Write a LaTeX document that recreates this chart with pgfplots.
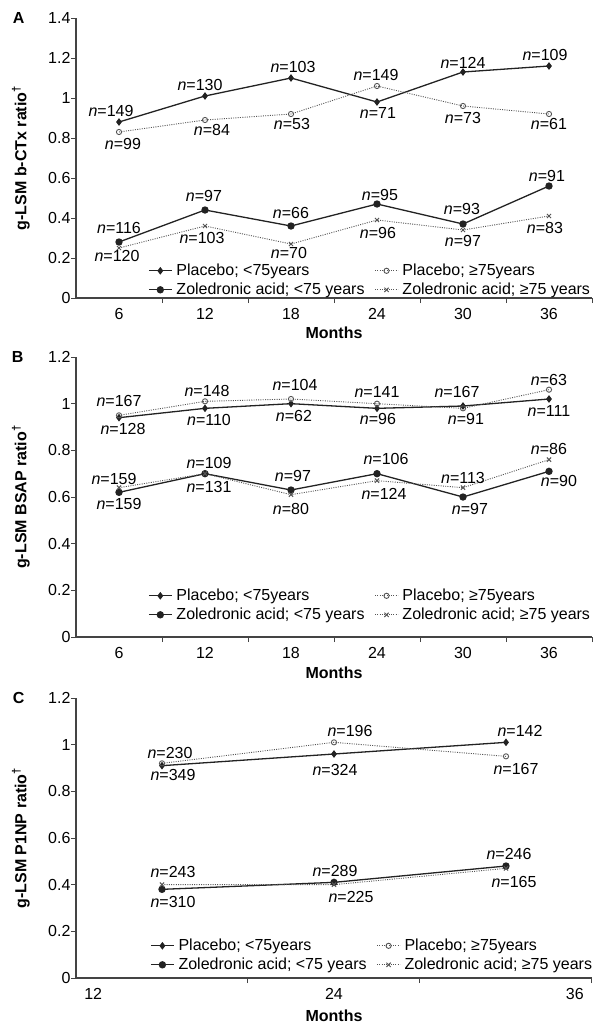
\documentclass[border=0pt]{standalone}
\usepackage{pgfplots}
\pgfplotsset{compat=1.18}
\usepackage{fontspec}
\setmainfont{Liberation Sans}
\definecolor{axisgray}{HTML}{444444}
\definecolor{linedark}{HTML}{222222}
\definecolor{dotgray}{HTML}{555555}

\pgfplotsset{
  panel/.style={
    scale only axis, width=516pt, height=280pt,
    ymin=0, clip=false,
    axis x line*=bottom, axis y line*=left,
    axis line style={line width=1.2pt, color=axisgray, -},
    tick align=outside,
    major tick length=0pt, minor tick length=5pt,
    tick style={line width=1pt, color=axisgray},
    /pgf/number format/assume math mode=true,
    yticklabel style={/pgf/number format/fixed, /pgf/number format/precision=1, text=black},
    xticklabel style={text=black, yshift=-5pt},
    every axis y label/.style={at={(axis description cs:-0.1066,0.5)}, rotate=90, anchor=center, font=\bfseries},
    every axis x label/.style={at={(axis description cs:0.5,0)}, anchor=center, yshift=-35pt, font=\bfseries},
    legend columns=2,
    legend cell align=left,
    legend style={draw=none, fill=none, inner sep=0pt, anchor=south west,
      nodes={inner sep=1pt, inner xsep=4pt},
      /tikz/row sep=3pt,
      /tikz/every even column/.append style={column sep=6pt}},
    legend image code/.code={
      \draw[#1] (0pt,0pt) -- (23pt,0pt);
      \draw[#1, only marks] plot coordinates {(11.5pt,0pt)};},
  },
  nlab/.style={
    nodes near coords={\textit{n}=\pgfplotspointmeta},
    point meta=explicit symbolic,
    visualization depends on={\thisrow{dx}\as\dx},
    visualization depends on={\thisrow{dy}\as\dy},
    every node near coord/.append style={anchor=center, xshift=\dx pt, yshift=\dy pt, inner sep=0pt, text=black},
  },
  sA/.style={nlab, line width=1.3pt, color=linedark, mark=diamond*, mark size=2.8pt, mark options={solid, fill=linedark}},
  sB/.style={nlab, line width=0.9pt, color=dotgray, dash pattern=on 1pt off 1.3pt, mark=o, mark size=2.6pt, mark options={solid, fill=white, line width=0.9pt}},
  sC/.style={nlab, line width=1.3pt, color=linedark, mark=*, mark size=3pt, mark options={solid, fill=linedark}},
  sD/.style={nlab, line width=0.9pt, color=dotgray, dash pattern=on 1pt off 1.3pt, mark=x, mark size=3pt, mark options={solid, line width=1pt}},
}

\begin{document}
\fontsize{16}{19}\selectfont
\begin{tikzpicture}
\useasboundingbox (0,0) rectangle (598pt,-1028pt);

% ---------------- Panel A ----------------
\begin{axis}[panel, at={(76pt,-298pt)}, anchor=south west,
  xmin=3, xmax=39, ymax=1.4,
  xtick={6,12,18,24,30,36}, minor xtick={9,15,21,27,33,39},
  ytick={0,0.2,0.4,0.6,0.8,1,1.2,1.4}, minor ytick={0,0.2,0.4,0.6,0.8,1,1.2,1.4},
  xlabel={Months}, ylabel={g-LSM b-CTx ratio\textsuperscript{†}},
  legend style={at={(axis description cs:0.1395,0)}, yshift=0pt},
]
\addplot[sA] table[x=x,y=y,meta=n] {
x y n dx dy
6 0.88 149 -8 11
12 1.01 130 -5 11
18 1.10 103 2 11
24 0.98 71 1 -11
30 1.13 124 0 9
36 1.16 109 -4 11
};
\addlegendentry{Placebo; <75years}
\addplot[sB] table[x=x,y=y,meta=n] {
x y n dx dy
6 0.83 99 4 -12
12 0.89 84 7 -10
18 0.92 53 1 -10
24 1.06 149 -1 11
30 0.96 73 0 -12
36 0.92 61 0 -10
};
\addlegendentry{Placebo; ≥75years}
\addplot[sC] table[x=x,y=y,meta=n] {
x y n dx dy
6 0.28 116 0 14
12 0.44 97 -1 14
18 0.36 66 0 13
24 0.47 95 3 9
30 0.37 93 -1 15
36 0.56 91 -2 10
};
\addlegendentry{Zoledronic acid; <75 years}
\addplot[sD] table[x=x,y=y,meta=n] {
x y n dx dy
6 0.25 120 -2 -8
12 0.36 103 -3 -12
18 0.27 70 -2 -9
24 0.39 96 1 -13
30 0.34 97 0 -11
36 0.41 83 -4 -12
};
\addlegendentry{Zoledronic acid; ≥75 years}
\node[font=\bfseries, anchor=center] at (axis description cs:-0.111,1) {A};
\end{axis}

% ---------------- Panel B ----------------
\begin{axis}[panel, at={(76pt,-637pt)}, anchor=south west,
  xmin=3, xmax=39, ymax=1.2,
  xtick={6,12,18,24,30,36}, minor xtick={9,15,21,27,33,39},
  ytick={0,0.2,0.4,0.6,0.8,1,1.2}, minor ytick={0,0.2,0.4,0.6,0.8,1,1.2},
  xlabel={Months}, ylabel={g-LSM BSAP ratio\textsuperscript{†}},
  every axis x label/.append style={yshift=-1pt},
  legend style={at={(axis description cs:0.1395,0)}, yshift=14pt},
]
\addplot[sA] table[x=x,y=y,meta=n] {
x y n dx dy
6 0.94 128 4 -11
12 0.98 110 4 -12
18 1.00 62 3 -12
24 0.98 96 1 -11
30 0.99 167 -6 14
36 1.02 111 0 -12
};
\addlegendentry{Placebo; <75years}
\addplot[sB] table[x=x,y=y,meta=n] {
x y n dx dy
6 0.95 167 0 14
12 1.01 148 2 10
18 1.02 104 4 14
24 1.00 141 0 12
30 0.98 91 3 -11
36 1.06 63 0 10
};
\addlegendentry{Placebo; ≥75years}
\addplot[sC] table[x=x,y=y,meta=n] {
x y n dx dy
6 0.62 159 0 -12
12 0.70 131 4 -13
18 0.63 97 2 14
24 0.70 106 9 15
30 0.60 97 7 -12
36 0.71 90 10 -10
};
\addlegendentry{Zoledronic acid; <75 years}
\addplot[sD] table[x=x,y=y,meta=n] {
x y n dx dy
6 0.64 159 -5 9
12 0.70 109 4 11
18 0.61 80 0 -14
24 0.67 124 7 -13
30 0.64 113 0 10
36 0.76 86 0 11
};
\addlegendentry{Zoledronic acid; ≥75 years}
\node[font=\bfseries, anchor=center] at (axis description cs:-0.113,1) {B};
\end{axis}

% ---------------- Panel C ----------------
\begin{axis}[panel, at={(76pt,-978pt)}, anchor=south west,
  xmin=0, xmax=6, ymax=1.2,
  xtick={0.2,3,5.8}, xticklabels={12,24,36}, minor xtick={2,4,6},
  ytick={0,0.2,0.4,0.6,0.8,1,1.2}, minor ytick={0,0.2,0.4,0.6,0.8,1,1.2},
  xlabel={Months}, ylabel={g-LSM P1NP ratio\textsuperscript{†}},
  every axis x label/.append style={yshift=-3pt},
  legend style={at={(axis description cs:0.1435,0)}, yshift=5pt},
]
\addplot[sA] table[x=x,y=y,meta=n] {
x y n dx dy
1 0.91 349 11 -9
3 0.96 324 1 -16
5 1.01 142 14 11
};
\addlegendentry{Placebo; <75years}
\addplot[sB] table[x=x,y=y,meta=n] {
x y n dx dy
1 0.92 230 8 10
3 1.01 196 16 11
5 0.95 167 10 -13
};
\addlegendentry{Placebo; ≥75years}
\addplot[sC] table[x=x,y=y,meta=n] {
x y n dx dy
1 0.38 310 11 -13
3 0.41 289 1 11
5 0.48 246 3 12
};
\addlegendentry{Zoledronic acid; <75 years}
\addplot[sD] table[x=x,y=y,meta=n] {
x y n dx dy
1 0.40 243 11 13
3 0.40 225 17 -12
5 0.47 165 8 -14
};
\addlegendentry{Zoledronic acid; ≥75 years}
\node[font=\bfseries, anchor=center] at (axis description cs:-0.111,1) {C};
\end{axis}
\end{tikzpicture}
\end{document}
